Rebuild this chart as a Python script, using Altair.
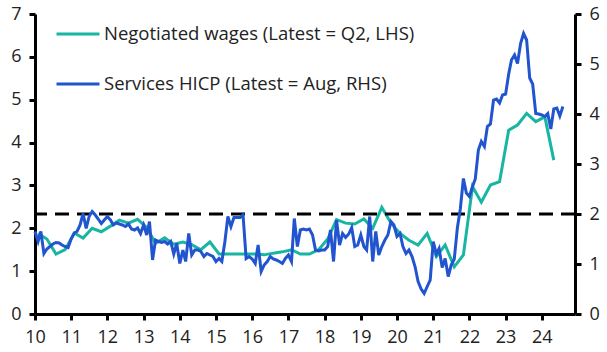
import altair as alt
import pandas as pd

FONT = "Open Sans"
TEAL = "#19B5A3"
BLUE = "#2154CF"

WAGE_LABEL = "Negotiated wages (Latest = Q2, LHS)"
HICP_LABEL = "Services HICP (Latest = Aug, RHS)"

# Negotiated wages, % y/y, quarterly 2010Q1 - 2024Q2 (left axis)
wages_2010 = [1.88, 1.75, 1.40, 1.50]
wages_2011 = [1.89, 1.77, 2.00, 1.92]
wages_2012 = [2.05, 2.19, 2.12, 2.21]
wages_2013 = [2.02, 1.65, 1.78, 1.63]
wages_2014 = [1.68, 1.62, 1.50, 1.68]
wages_2015 = [1.40, 1.40, 1.40, 1.40]
wages_2016 = [1.40, 1.38, 1.42, 1.45]
wages_2017 = [1.50, 1.40, 1.40, 1.50]
wages_2018 = [1.75, 2.20, 2.12, 2.10]
wages_2019 = [2.22, 2.00, 2.49, 2.12]
wages_2020 = [1.88, 1.72, 1.61, 1.88]
wages_2021 = [1.34, 1.61, 1.10, 1.38]
wages_2022 = [2.97, 2.61, 3.01, 3.09]
wages_2023 = [4.29, 4.41, 4.68, 4.49]
wages_2024 = [4.60, 3.59]

# Services HICP, % y/y, monthly Jan 2010 - Aug 2024 (right axis)
hicp_2010 = [1.65, 1.45, 1.65, 1.21, 1.30, 1.35, 1.40, 1.43, 1.42, 1.38, 1.35, 1.33]
hicp_2011 = [1.50, 1.62, 1.65, 1.78, 2.01, 1.71, 1.95, 2.05, 1.98, 1.90, 1.81, 1.88]
hicp_2012 = [1.95, 1.88, 1.78, 1.82, 1.80, 1.78, 1.75, 1.80, 1.70, 1.68, 1.72, 1.61]
hicp_2013 = [1.78, 1.58, 1.85, 1.08, 1.48, 1.45, 1.43, 1.45, 1.40, 1.45, 1.20, 1.41]
hicp_2014 = [1.01, 1.28, 1.05, 1.61, 1.18, 1.28, 1.28, 1.25, 1.15, 1.21, 1.18, 1.15]
hicp_2015 = [1.05, 1.11, 1.05, 1.45, 1.95, 1.75, 1.93, 1.93, 1.93, 1.98, 1.11, 1.15]
hicp_2016 = [1.10, 1.01, 1.38, 0.85, 0.98, 1.05, 1.15, 1.10, 1.08, 1.05, 1.01, 1.11]
hicp_2017 = [1.18, 1.05, 1.91, 1.35, 1.68, 1.70, 1.68, 1.70, 1.58, 1.28, 1.26, 1.28]
hicp_2018 = [1.28, 1.35, 1.68, 1.05, 1.88, 1.38, 1.61, 1.53, 1.60, 1.73, 1.35, 1.38]
hicp_2019 = [1.58, 1.35, 1.28, 1.95, 1.05, 1.65, 1.18, 1.35, 1.48, 1.58, 1.85, 1.78]
hicp_2020 = [1.55, 1.61, 1.35, 1.21, 1.28, 1.15, 0.95, 0.65, 0.50, 0.41, 0.55, 0.68]
hicp_2021 = [1.45, 1.20, 1.31, 0.93, 1.11, 0.75, 0.98, 1.10, 1.72, 2.10, 2.71, 2.42]
hicp_2022 = [2.35, 2.55, 2.70, 3.28, 3.45, 3.35, 3.75, 3.80, 4.28, 4.30, 4.22, 4.38]
hicp_2023 = [4.40, 4.80, 5.08, 5.18, 5.01, 5.41, 5.61, 5.48, 4.72, 4.60, 4.01, 4.00]
hicp_2024 = [3.98, 3.95, 4.01, 3.70, 4.10, 4.12, 3.96, 4.15]

years = list(range(2010, 2025))
wages_by_year = [wages_2010, wages_2011, wages_2012, wages_2013, wages_2014,
                 wages_2015, wages_2016, wages_2017, wages_2018, wages_2019,
                 wages_2020, wages_2021, wages_2022, wages_2023, wages_2024]
hicp_by_year = [hicp_2010, hicp_2011, hicp_2012, hicp_2013, hicp_2014,
                hicp_2015, hicp_2016, hicp_2017, hicp_2018, hicp_2019,
                hicp_2020, hicp_2021, hicp_2022, hicp_2023, hicp_2024]

target_rhs = 2.0

wage_rows = []
for y, vals in zip(years, wages_by_year):
    for q, v in enumerate(vals):
        wage_rows.append({"date": f"{y}-{3 * q + 2:02d}-01T00:00:00",
                          "value": v, "series": WAGE_LABEL})
hicp_rows = []
for y, vals in zip(years, hicp_by_year):
    for m, v in enumerate(vals):
        hicp_rows.append({"date": f"{y}-{m + 1:02d}-01T00:00:00",
                          "value": v, "series": HICP_LABEL})

wages_df = pd.DataFrame(wage_rows)
hicp_df = pd.DataFrame(hicp_rows)
target_df = pd.DataFrame({"value": [target_rhs]})

x_scale = alt.Scale(domain=[alt.DateTime(year=2010, month=1, date=1),
                            alt.DateTime(year=2024, month=12, date=1)])


def x_axis():
    return alt.Axis(values=[alt.DateTime(year=y, month=1, date=1) for y in years],
                    format="%y", labelAngle=0, labelPadding=8, labelAlign="center",
                    labelOverlap=False, labelFlush=False)


color = alt.Color(
    "series:N",
    scale=alt.Scale(domain=[WAGE_LABEL, HICP_LABEL], range=[TEAL, BLUE]),
    legend=alt.Legend(
        title=None, orient="none", legendX=20, legendY=-3,
        symbolType="stroke", symbolSize=1849, symbolStrokeWidth=3,
        labelFontSize=18.5, labelFont=FONT, labelColor="#222",
        labelOffset=3, rowPadding=17, padding=0, labelLimit=400,
    ),
)

wages_line = alt.Chart(wages_df).mark_line(strokeWidth=3).encode(
    x=alt.X("date:T", scale=x_scale, axis=x_axis(), title=None),
    y=alt.Y("value:Q", scale=alt.Scale(domain=[0, 7]),
            axis=alt.Axis(orient="left", values=list(range(0, 8)), labelPadding=8),
            title=None),
    color=color,
)

hicp_line = alt.Chart(hicp_df).mark_line(strokeWidth=3).encode(
    x=alt.X("date:T", scale=x_scale, axis=x_axis(), title=None),
    y=alt.Y("value:Q", scale=alt.Scale(domain=[0, 6]),
            axis=alt.Axis(orient="right", values=list(range(0, 7)), labelPadding=8),
            title=None),
    color=color,
)

target_rule = alt.Chart(target_df).mark_rule(
    color="black", strokeWidth=3, strokeDash=[14, 8]
).encode(y=alt.Y("value:Q"))

right_layer = alt.layer(target_rule, hicp_line)

chart = alt.layer(wages_line, right_layer).resolve_scale(
    y="independent"
).properties(
    width=540, height=300,
    padding={"left": 35, "top": 14, "right": 32, "bottom": 38},
    autosize="none",
).configure_view(stroke=None).configure_axis(
    domainColor="black", domainWidth=3, tickColor="black", tickWidth=3,
    tickSize=6, labelFontSize=18, labelFont=FONT, labelColor="#222",
    grid=False,
)

chart.save("out.html", embed_options={"renderer": "svg", "actions": False})
